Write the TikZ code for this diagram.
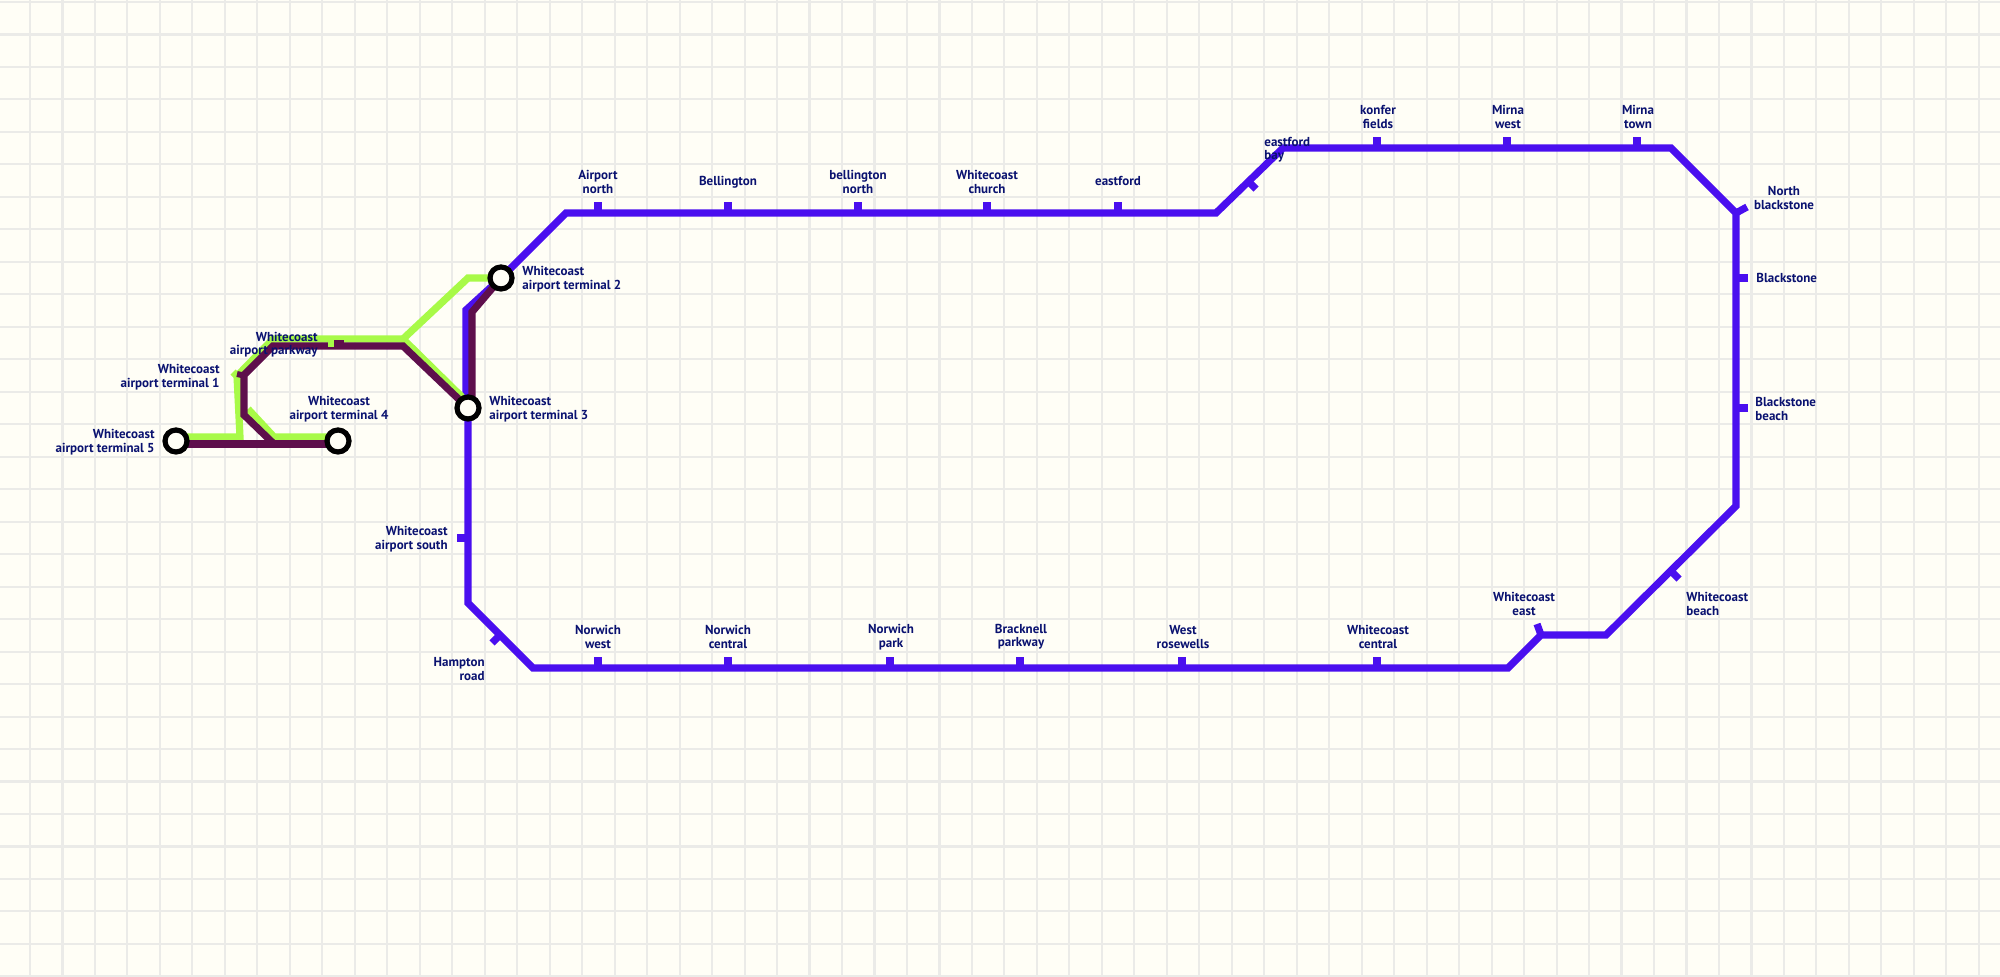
\documentclass[tikz,border=0pt]{standalone}
\usepackage{fontspec}
\setmainfont{PT Sans}
\definecolor{mapbg}{HTML}{FFFEF6}
\definecolor{mapgrid}{HTML}{EBEBE8}
\definecolor{mapblue}{HTML}{4A0FEF}
\definecolor{mapgreen}{HTML}{A8FA48}
\definecolor{mapplum}{HTML}{5E0F4C}
\definecolor{mapnavy}{HTML}{0A1270}
\tikzset{
  gridline/.style = {draw=mapgrid, line width=1.05pt},
  route/.style    = {line width=3.6pt, miter limit=4},
  tick/.style     = {draw=mapblue, line width=3.6pt},
  term/.style     = {draw=black, circle, fill=mapbg, line width=2.6pt, minimum size=11pt, inner sep=0pt},
  lbl/.style      = {font=\fontsize{6.5}{6.7}\selectfont\bfseries, text=mapnavy, inner sep=0pt, align=center},
  lbll/.style     = {lbl, align=left, anchor=west},
  lblr/.style     = {lbl, align=right, anchor=east},
}
\begin{document}
\begin{tikzpicture}[x=0.5pt, y=-0.5pt]
  \useasboundingbox (0,0) rectangle (2000,977);
  \fill[mapbg] (0,0) rectangle (2000,977);
  % squared paper
  \foreach \k in {0,...,60} {
    \draw[gridline] ({30+32.48*\k},0) -- ({30+32.48*\k},977);
  }
  \foreach \k in {0,...,30} {
    \draw[gridline] (0,{2+32.48*\k}) -- (2000,{2+32.48*\k});
  }
  % terminals
  \foreach \n/\x/\y in {T2/501/278, T3/468/408, T4/338/441, T5/176/441} {
    \coordinate (\n) at (\x,\y);
  }
  % bends of the routes
  \foreach \n/\x/\y in {b1/466/310, b2/466/408, b3/468/603, b4/533/668, b5/1508/668, b6/1541/635,
                        b7/1606/635, b8/1736/506, b9/1736/213, b10/1671/148, b11/1283/148,
                        b12/1216/213, b13/566/213,
                        p1/472/312, p2/472/400, p3/403/346, p4/273/346, p5/244/375, p6/244/415,
                        p7/274/444, p8/176/444, p9/338/444, p10/501/278,
                        g1/176/437, g2/240/437, g3/237/376, g4/233/372, g5/273/339, g6/403/339,
                        g7/468/278, g8/462/397, g9/248/409, g10/274/437, g11/338/437} {
    \coordinate (\n) at (\x,\y);
  }
  \draw[route, draw=mapblue] (T2) -- (b13) -- (b12) -- (b11) -- (b10) -- (b9) -- (b8) -- (b7) -- (b6)
    -- (b5) -- (b4) -- (b3) -- (T3);
  \draw[route, draw=mapblue] (T2) -- (b1) -- (b2);
  % stops on the blue route
  \foreach \n/\a/\b/\c/\d in {ANorth/598/213/598/202, Bell/728/213/728/202, BellN/858/213/858/202,
      WChurch/987/213/987/202, East/1118/213/1118/202, EastB/1248/181/1256/189,
      Konfer/1377/148/1377/137, MirnaW/1507/148/1507/137, MirnaT/1637/148/1637/137,
      NBlack/1736/213/1747/207, Black/1736/278/1748/278, BlackB/1736/408/1748/408,
      WBeach/1671/571/1679/579, WEast/1541/635/1537/624, WCentral/1377/668/1377/657,
      WRose/1182/668/1182/657, Brack/1020/668/1020/657, NPark/890/668/890/657,
      NCentral/728/668/728/657, NWest/598/668/598/657, Hampton/500/635/492/643,
      ASouth/468/538/457/538} {
    \coordinate (\n) at (\a,\b);
    \coordinate (\n-t) at (\c,\d);
    \draw[tick] (\n) -- (\n-t);
  }
  \draw[route, draw=mapgreen] (g1) -- (g2) -- (g3) -- (g4);
  \draw[route, draw=mapgreen] (g3) -- (g5) -- (g6) -- (g7) -- (T2);
  \draw[route, draw=mapgreen] (g6) -- (g8);
  \draw[route, draw=mapgreen] (g9) -- (g10) -- (g11);
  \draw[route, draw=mapplum] (p10) -- (p1) -- (p2);
  \draw[route, draw=mapplum] (T3) -- (p3) -- (p4) -- (p5) -- (p6) -- (p7);
  \draw[route, draw=mapplum] (p8) -- (p9);
  % stops on the airport routes
  \coordinate (Park) at (339,346);
  \coordinate (Park-t) at (339,340);
  \draw[draw=mapplum, line width=5pt] (Park) -- (Park-t);
  \coordinate (ParkG) at (331,340);
  \coordinate (ParkG-t) at (331,347);
  \draw[draw=mapgreen, line width=3pt] (ParkG) -- (ParkG-t);
  \coordinate (T1) at (237,374);
  \coordinate (T1-t) at (246,376);
  \draw[draw=mapplum, line width=3pt] (T1) -- (T1-t);
  % labels
  \foreach \n/\x/\y/\t in {ANorth/598/182/{Airport\\north}, Bell/728/182/{Bellington},
      BellN/858/182/{bellington\\north}, WChurch/987/182/{Whitecoast\\church}, East/1118/181/{eastford},
      Konfer/1378/117/{konfer\\fields}, MirnaW/1508/117/{Mirna\\west}, MirnaT/1638/117/{Mirna\\town},
      WEast/1524/604/{Whitecoast\\east}, WCentral/1378/637/{Whitecoast\\central},
      WRose/1183/637/{West\\rosewells}, Brack/1021/637/{Bracknell\\parkway}, NPark/891/637/{Norwich\\park},
      NCentral/728/637/{Norwich\\central}, NWest/598/637/{Norwich\\west},
      NBlack/1784/198/{North\\blackstone}, T4/339/409/{Whitecoast\\airport terminal 4}} {
    \node[lbl] (l\n) at (\x,\y) {\t};
  }
  \foreach \n/\x/\y/\t in {EastB/1264/150/{eastford\\bay}, Black/1756/278/{Blackstone},
      BlackB/1755/409/{Blackstone\\beach}, WBeach/1686/604/{Whitecoast\\beach},
      T3/489/409/{Whitecoast\\airport terminal 3}, T2/522/279/{Whitecoast\\airport terminal 2}} {
    \node[lbll] (l\n) at (\x,\y) {\t};
  }
  \foreach \n/\x/\y/\t in {Hampton/485/669/{Hampton\\road}, ASouth/448/539/{Whitecoast\\airport south},
      T1/220/377/{Whitecoast\\airport terminal 1}, T5/155/442/{Whitecoast\\airport terminal 5},
      Park/318/345/{Whitecoast\\airport parkway}} {
    \node[lblr] (l\n) at (\x,\y) {\t};
  }
  \foreach \n in {T2, T3, T4, T5} {
    \node[term] (c\n) at (\n) {};
  }
\end{tikzpicture}
\end{document}
